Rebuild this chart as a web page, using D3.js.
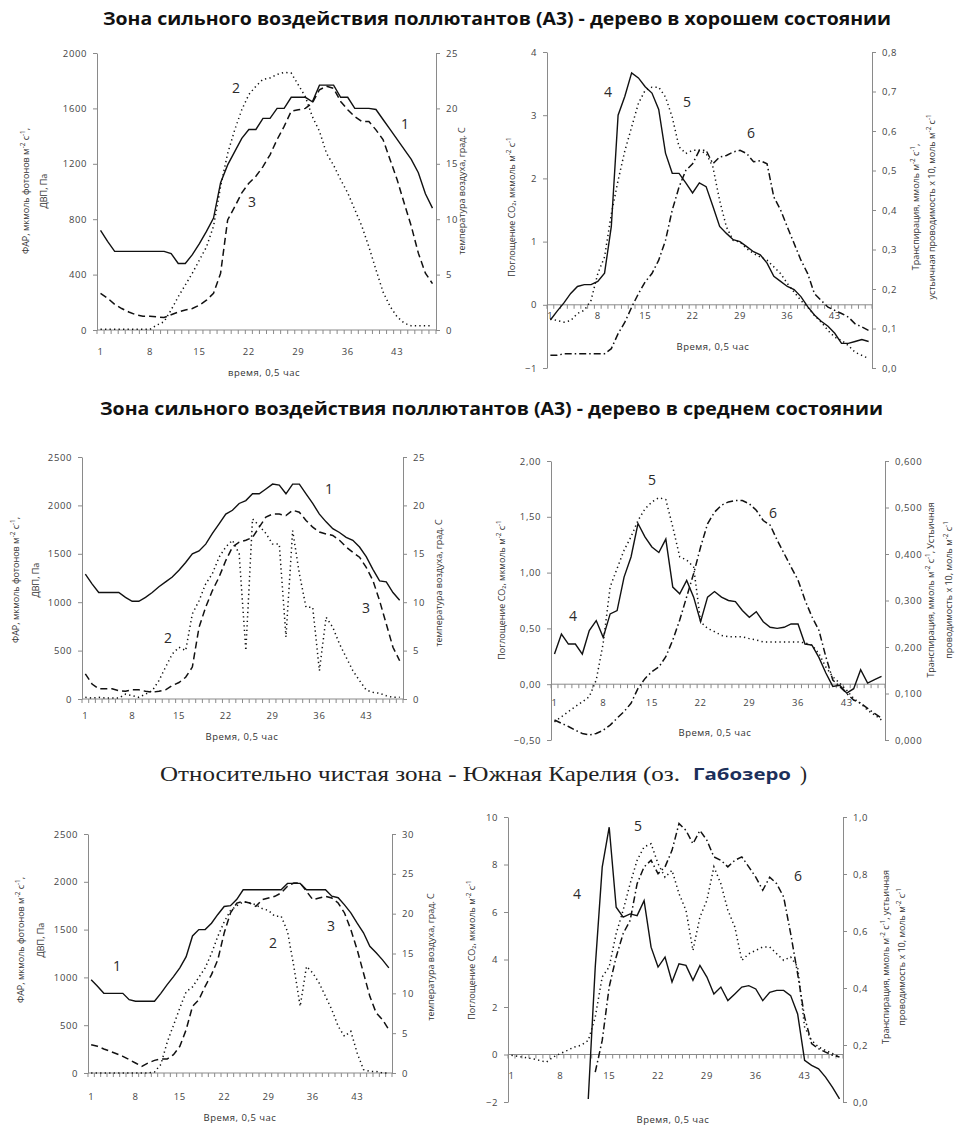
<!DOCTYPE html>
<html>
<head>
<meta charset="utf-8">
<script src="https://cdn.jsdelivr.net/npm/d3@7"></script>
<style>
  body { margin: 0; background: #fff; }
  svg { display: block; font-family: "Open Sans", "Liberation Sans", sans-serif; }
</style>
</head>
<body>
<div id="chart"></div>
<script>
// категории: получасовые интервалы суток
var categories = [1,2,3,4,5,6,7,8,9,10,11,12,13,14,15,16,17,18,19,20,21,22,23,24,
                  25,26,27,28,29,30,31,32,33,34,35,36,37,38,39,40,41,42,43,44,45,46,47,48];
var tickLabels = [1, 8, 15, 22, 29, 36, 43];

// А3, хорошее состояние: 1 - температура, 2 - ФАР, 3 - ДВП
var p1Temp = [9.0,8.0,7.1,7.1,7.1,7.1,7.1,7.1,7.1,7.1,6.9,6.0,6.0,6.8,7.8,8.9,10.1,13.3,14.9,16.1,
              17.3,18.1,18.1,19.1,19.1,20.0,20.0,21.0,21.0,21.0,20.6,22.1,22.1,22.1,21.0,21.0,20.0,20.0,
              20.0,19.9,19.0,18.1,17.2,16.3,15.4,14.2,12.3,11.0];
var p1Par = [5,5,5,5,5,5,5,5,36,60,145,240,325,410,505,600,750,1035,1275,1445,
             1590,1700,1760,1810,1820,1845,1860,1855,1770,1685,1540,1435,1275,1190,1085,990,870,750,
             600,435,275,170,95,50,30,30,30,30];
var p1Vpd = [265,230,185,155,130,110,100,100,95,90,110,130,145,155,180,215,265,410,795,890,
             990,1060,1110,1180,1265,1375,1470,1580,1590,1600,1640,1735,1760,1745,1650,1590,1540,1505,
             1505,1445,1375,1230,1085,915,750,555,410,335];

// А3, хорошее состояние: 4 - поглощение CO2, 5 - транспирация, 6 - устьичная проводимость
var p2Co2 = [-0.24,-0.1,0.03,0.18,0.29,0.32,0.32,0.37,0.5,1.24,3.0,3.3,3.67,3.59,3.45,3.35,3.09,2.4,2.08,2.08,
             1.93,1.77,1.93,1.87,1.56,1.24,1.13,1.03,1.0,0.92,0.84,0.79,0.66,0.45,0.37,0.29,0.24,0.13,
             -0.03,-0.16,-0.26,-0.34,-0.45,-0.61,-0.61,-0.58,-0.55,-0.58];
var p2Transp = [0.125,0.12,0.116,0.12,0.138,0.146,0.171,0.239,0.281,0.39,0.475,0.55,0.61,0.67,0.703,0.711,
                0.711,0.686,0.635,0.56,0.543,0.551,0.551,0.543,0.509,0.424,0.357,0.323,0.319,0.302,0.29,
                0.281,0.273,0.256,0.239,0.214,0.192,0.171,0.154,0.133,0.116,0.095,0.078,0.07,0.057,0.04,
                0.032,0.024];
var p2Cond = [0.032,0.032,0.036,0.036,0.036,0.036,0.036,0.036,0.036,0.049,0.087,0.116,0.154,0.188,0.218,0.239,
              0.273,0.323,0.4,0.458,0.5,0.517,0.551,0.551,0.517,0.534,0.538,0.547,0.551,0.543,0.522,0.525,
              0.517,0.433,0.4,0.357,0.315,0.273,0.239,0.188,0.171,0.154,0.146,0.138,0.129,0.112,0.104,0.095];

// А3, среднее состояние
var p3Temp = [12.9,11.9,11.0,11.0,11.0,11.0,10.5,10.1,10.1,10.5,11.0,11.6,12.1,12.6,13.3,14.1,15.0,15.3,16.0,17.1,
              18.1,19.1,19.5,20.2,20.5,21.2,21.2,21.7,22.2,22.1,21.2,22.2,22.2,21.2,20.2,19.1,18.3,17.6,
              17.2,16.7,16.4,15.7,14.7,13.4,12.2,12.1,11.0,10.2];
var p3Par = [17,10,17,10,10,10,50,35,17,50,85,190,330,465,535,500,880,1015,1190,1295,
             1465,1570,1640,1500,500,1860,1790,1710,1600,1600,640,1740,1295,948,948,293,845,741,
             569,431,293,190,93,69,59,34,17,17];
var p3Vpd = [260,155,105,105,105,85,80,95,95,80,70,80,95,140,170,225,330,740,950,1120,
             1260,1430,1570,1620,1640,1670,1775,1880,1910,1910,1895,1950,1930,1845,1775,1725,1705,1690,
             1640,1570,1515,1465,1360,1225,1015,775,535,395];

var p4Co2 = [0.27,0.45,0.36,0.36,0.27,0.48,0.57,0.42,0.63,0.66,0.96,1.14,1.44,1.32,1.23,1.18,1.3,0.87,0.81,0.93,
             0.78,0.56,0.78,0.83,0.78,0.75,0.74,0.66,0.6,0.65,0.56,0.51,0.5,0.51,0.54,0.54,0.36,0.35,
             0.24,0.1,-0.02,-0.01,-0.08,-0.04,0.13,0.01,0.04,0.07];
var p4Transp = [0.039,0.05,0.061,0.072,0.082,0.093,0.129,0.208,0.329,0.369,0.408,0.437,0.472,0.497,0.512,0.521,
                0.517,0.458,0.394,0.387,0.372,0.254,0.24,0.233,0.225,0.222,0.222,0.222,0.218,0.215,0.211,
                0.211,0.211,0.211,0.211,0.211,0.209,0.204,0.186,0.157,0.136,0.122,0.107,0.089,0.079,0.064,
                0.054,0.043];
var p4Cond = [0.043,0.036,0.029,0.021,0.014,0.011,0.014,0.021,0.032,0.047,0.061,0.079,0.111,0.132,0.147,0.157,
              0.179,0.215,0.258,0.308,0.358,0.415,0.465,0.49,0.505,0.512,0.515,0.515,0.508,0.494,0.472,0.462,
              0.43,0.401,0.372,0.344,0.301,0.265,0.236,0.179,0.129,0.115,0.1,0.086,0.079,0.068,0.057,0.047];

// Южная Карелия (оз. Габозеро)
var p5Temp = [11.7,10.9,10.0,10.0,10.0,10.0,9.2,9.0,9.0,9.0,9.0,10.0,11.1,12.1,13.2,14.6,17.2,18.0,18.0,18.8,
              19.9,20.9,21.0,21.8,23.0,23.0,23.0,23.0,23.0,23.0,23.0,23.8,23.8,23.8,23.0,23.0,23.0,23.0,
              22.2,22.0,21.1,20.1,18.8,17.6,15.9,15.1,14.2,13.2];
var p5Par = [0,0,0,0,0,0,0,0,0,0,10,90,320,500,680,850,900,1000,1100,1250,
             1430,1580,1700,1750,1790,1780,1760,1720,1700,1640,1640,1480,1115,697,1115,1045,941,802,
             662,488,383,436,209,35,17,17,0,0];
var p5Vpd = [296,279,251,227,202,174,140,105,70,105,132,146,146,192,279,453,697,767,907,1029,
             1185,1464,1674,1778,1796,1778,1743,1813,1830,1848,1883,1953,1987,1987,1900,1813,1830,1848,
             1830,1778,1674,1500,1290,1046,802,628,558,453];

var p6Co2 = [null,null,null,null,null,null,null,null,null,null,null,-1.87,3.68,7.89,9.57,6.2,5.78,5.92,5.85,6.48,
             4.52,3.68,4.1,3.05,3.82,3.75,3.12,3.75,3.26,2.55,2.84,2.27,2.55,2.84,2.9,2.76,2.27,2.62,
             2.7,2.7,2.48,1.71,-0.25,-0.46,-0.6,-0.95,-1.38,-1.87];
var p6Transp = [0.164,0.16,0.156,0.152,0.146,0.14,0.158,0.17,0.181,0.193,0.199,0.216,0.298,0.439,0.474,0.591,
                0.673,0.766,0.848,0.895,0.906,0.836,0.789,0.813,0.731,0.673,0.532,0.649,0.708,0.825,0.766,
                0.673,0.614,0.497,0.52,0.532,0.544,0.544,0.52,0.497,0.509,0.474,0.263,0.216,0.193,0.181,
                0.17,0.158];
var p6Cond = [null,null,null,null,null,null,null,null,null,null,null,null,0.105,0.216,0.404,0.509,0.591,0.637,0.766,0.825,
              0.848,0.801,0.825,0.883,0.977,0.953,0.906,0.953,0.918,0.86,0.848,0.825,0.848,0.86,0.825,0.789,
              0.743,0.789,0.766,0.719,0.591,0.45,0.298,0.205,0.187,0.175,0.164,0.158];

var ru = d3.formatLocale({decimal: ",", thousands: "", grouping: [3], currency: ["", ""]});

var DASH = {solid: null, dot: "1.3,3.2", dash: "7,4", dashdot: "7,3,1.5,3"};

var svg = d3.select("#chart").append("svg")
    .attr("width", 960)
    .attr("height", 1128);

// текст с верхними индексами вида м^{-2}
function richText(sel, str) {
  var parts = str.split(/\^\{([^}]*)\}/);
  parts.forEach(function(s, i) {
    if (i % 2 === 1) {
      sel.append("tspan").attr("dy", -4).attr("font-size", "0.7em").text(s);
    } else if (s) {
      sel.append("tspan").attr("dy", i === 0 ? 0 : 4).text(s);
    }
  });
}

function drawPanel(p) {
  var x = d3.scaleBand().domain(categories).range([p.x0, p.x1]);
  var yL = d3.scaleLinear().domain(p.left).range([p.y1, p.y0]);
  var yR = d3.scaleLinear().domain(p.right).range([p.y1, p.y0]);
  var g = svg.append("g");

  var leftAxis = g.append("g")
      .attr("transform", "translate(" + p.x0 + ",0)")
      .call(d3.axisLeft(yL).tickValues(p.leftTicks).tickFormat(p.leftFmt)
            .tickSizeInner(4).tickSizeOuter(0).tickPadding(6));
  var rightAxis = g.append("g")
      .attr("transform", "translate(" + p.x1 + ",0)")
      .call(d3.axisRight(yR).tickValues(p.rightTicks).tickFormat(p.rightFmt)
            .tickSizeInner(4).tickSizeOuter(0).tickPadding(6));
  [leftAxis, rightAxis].forEach(function(a) {
    a.attr("font-family", null);
    a.select(".domain").attr("stroke", "#8a8a8a");
    a.selectAll(".tick line").attr("stroke", "#8a8a8a");
    a.selectAll(".tick text").attr("fill", "#444").attr("font-size", 9.5)
      .attr("letter-spacing", 0.6);
  });

  // ось времени по нулю левой шкалы
  var y0 = yL(0);
  g.append("line")
      .attr("x1", p.x0).attr("x2", p.x1)
      .attr("y1", y0).attr("y2", y0)
      .attr("stroke", "#8a8a8a");
  var bounds = categories.map(function(c) { return x(c); }).concat([p.x1]);
  g.selectAll(".xt").data(bounds).enter().append("line")
      .attr("x1", function(d) { return d; }).attr("x2", function(d) { return d; })
      .attr("y1", y0).attr("y2", y0 + 4)
      .attr("stroke", "#8a8a8a");
  g.selectAll(".xl").data(tickLabels).enter().append("text")
      .attr("x", function(d) { return x(d) + x.bandwidth() / 2; })
      .attr("y", p.xLabelY)
      .attr("text-anchor", "middle")
      .attr("dominant-baseline", "middle")
      .attr("font-size", 9.5)
      .attr("letter-spacing", 0.6)
      .attr("fill", "#444")
      .text(function(d) { return d; });

  g.append("text")
      .attr("x", p.xTitle[0]).attr("y", p.xTitle[1])
      .attr("text-anchor", "middle")
      .attr("dominant-baseline", "middle")
      .attr("font-size", 9.5)
      .attr("letter-spacing", 0.5)
      .attr("fill", "#333")
      .text(p.xTitle[2]);

  p.leftTitles.concat(p.rightTitles).forEach(function(t) {
    var tx = g.append("text")
        .attr("transform", "translate(" + t[0] + "," + t[1] + ") rotate(-90)")
        .attr("text-anchor", "middle")
        .attr("dominant-baseline", "middle")
        .attr("font-size", 9)
        .attr("fill", "#333");
    richText(tx, t[2]);
  });

  p.series.forEach(function(s) {
    var yS = s.axis === "R" ? yR : yL;
    var line = d3.line()
        .defined(function(d) { return d != null; })
        .x(function(d, i) { return x(categories[i]) + x.bandwidth() / 2; })
        .y(function(d) { return yS(d); });
    g.append("path")
        .datum(s.data)
        .attr("fill", "none")
        .attr("stroke", "#111")
        .attr("stroke-width", s.style === "solid" ? 1.4 : 1.5)
        .attr("stroke-dasharray", DASH[s.style])
        .attr("d", line);
  });

  p.labels.forEach(function(l) {
    g.append("text")
        .attr("x", l[0]).attr("y", l[1])
        .attr("text-anchor", "middle")
        .attr("dominant-baseline", "middle")
        .attr("font-size", 14)
        .attr("fill", "#2a2a2a")
        .text(l[2]);
  });
}

var fInt = ru.format("d");
var leftTitleFar = "ФАР, мкмоль фотонов м^{-2} с^{-1},";

var panels = [
  {x0: 97, x1: 436, y0: 53, y1: 330,
   left: [0, 2000], leftTicks: [0, 400, 800, 1200, 1600, 2000], leftFmt: fInt,
   right: [0, 25], rightTicks: [0, 5, 10, 15, 20, 25], rightFmt: fInt,
   xLabelY: 352, xTitle: [264, 373, "время, 0,5 час"],
   leftTitles: [[27, 191, leftTitleFar], [45, 191, "ДВП, Па"]],
   rightTitles: [[463, 191, "температура воздуха, град. С"]],
   series: [{data: p1Temp, axis: "R", style: "solid"},
            {data: p1Par, axis: "L", style: "dot"},
            {data: p1Vpd, axis: "L", style: "dash"}],
   labels: [[405, 125, "1"], [236, 89, "2"], [252, 203, "3"]]},
  {x0: 547, x1: 872, y0: 52, y1: 368,
   left: [-1, 4], leftTicks: [-1, 0, 1, 2, 3, 4], leftFmt: fInt,
   right: [0, 0.8], rightTicks: [0, 0.1, 0.2, 0.3, 0.4, 0.5, 0.6, 0.7, 0.8], rightFmt: ru.format(".1f"),
   xLabelY: 316, xTitle: [713, 347, "Время, 0,5 час"],
   leftTitles: [[513, 207, "Поглощение CO₂, мкмоль м^{-2} с^{-1}"]],
   rightTitles: [[917, 207, "Транспирация, ммоль м^{-2} с^{-1},"],
                 [933, 207, "устьичная проводимость х 10, моль м^{-2} с^{-1}"]],
   series: [{data: p2Co2, axis: "L", style: "solid"},
            {data: p2Transp, axis: "R", style: "dot"},
            {data: p2Cond, axis: "R", style: "dashdot"}],
   labels: [[608, 93, "4"], [687, 103, "5"], [751, 134, "6"]]},
  {x0: 82, x1: 403, y0: 457, y1: 699,
   left: [0, 2500], leftTicks: [0, 500, 1000, 1500, 2000, 2500], leftFmt: fInt,
   right: [0, 25], rightTicks: [0, 5, 10, 15, 20, 25], rightFmt: fInt,
   xLabelY: 716, xTitle: [242, 737, "Время, 0,5 час"],
   leftTitles: [[17, 580, leftTitleFar], [37, 580, "ДВП, Па"]],
   rightTitles: [[440, 583, "температура воздуха, град. С"]],
   series: [{data: p3Temp, axis: "R", style: "solid"},
            {data: p3Par, axis: "L", style: "dot"},
            {data: p3Vpd, axis: "L", style: "dash"}],
   labels: [[329, 490, "1"], [168, 639, "2"], [366, 609, "3"]]},
  {x0: 551, x1: 885, y0: 461, y1: 740,
   left: [-0.5, 2], leftTicks: [-0.5, 0, 0.5, 1, 1.5, 2], leftFmt: ru.format(".2f"),
   right: [0, 0.6], rightTicks: [0, 0.1, 0.2, 0.3, 0.4, 0.5, 0.6], rightFmt: ru.format(".3f"),
   xLabelY: 703, xTitle: [715, 733, "Время, 0,5 час"],
   leftTitles: [[503, 590, "Поглощение CO₂, мкмоль м^{-2} с^{-1}"]],
   rightTitles: [[932, 590, "Транспирация, ммоль м^{-2} с^{-1}, Устьичная"],
                 [950, 590, "проводимость х 10, моль м^{-2} с^{-1}"]],
   series: [{data: p4Co2, axis: "L", style: "solid"},
            {data: p4Transp, axis: "R", style: "dot"},
            {data: p4Cond, axis: "R", style: "dashdot"}],
   labels: [[573, 617, "4"], [652, 481, "5"], [773, 514, "6"]]},
  {x0: 88, x1: 392, y0: 834, y1: 1073,
   left: [0, 2500], leftTicks: [0, 500, 1000, 1500, 2000, 2500], leftFmt: fInt,
   right: [0, 30], rightTicks: [0, 5, 10, 15, 20, 25, 30], rightFmt: fInt,
   xLabelY: 1097, xTitle: [240, 1118, "Время, 0,5 час"],
   leftTitles: [[22, 940, leftTitleFar], [42, 940, "ДВП, Па"]],
   rightTitles: [[432, 957, "температура воздуха, град. С"]],
   series: [{data: p5Temp, axis: "R", style: "solid"},
            {data: p5Par, axis: "L", style: "dot"},
            {data: p5Vpd, axis: "L", style: "dash"}],
   labels: [[117, 967, "1"], [273, 944, "2"], [331, 927, "3"]]},
  {x0: 508, x1: 843, y0: 817, y1: 1102,
   left: [-2, 10], leftTicks: [-2, 0, 2, 4, 6, 8, 10], leftFmt: fInt,
   right: [0, 1], rightTicks: [0, 0.2, 0.4, 0.6, 0.8, 1], rightFmt: ru.format(".1f"),
   xLabelY: 1076, xTitle: [673, 1120, "Время, 0,5 час"],
   leftTitles: [[473, 950, "Поглощение CO₂, мкмоль м^{-2} с^{-1}"]],
   rightTitles: [[887, 957, "Транспирация, ммоль м^{-2} с^{-1}, устьичная"],
                 [903, 957, "проводимость х 10, моль м^{-2} с^{-1}"]],
   series: [{data: p6Co2, axis: "L", style: "solid"},
            {data: p6Transp, axis: "R", style: "dot"},
            {data: p6Cond, axis: "R", style: "dashdot"}],
   labels: [[577, 895, "4"], [638, 827, "5"], [798, 877, "6"]]}
];

panels.forEach(drawPanel);

// заголовки блоков
svg.append("text")
    .attr("x", 103).attr("y", 20)
    .attr("dominant-baseline", "middle")
    .attr("font-size", 17).attr("font-weight", "bold").attr("fill", "#111")
    .attr("textLength", 788).attr("lengthAdjust", "spacingAndGlyphs")
    .text("Зона сильного воздействия поллютантов (А3) - дерево в хорошем состоянии");
svg.append("text")
    .attr("x", 100).attr("y", 410)
    .attr("dominant-baseline", "middle")
    .attr("font-size", 17).attr("font-weight", "bold").attr("fill", "#111")
    .attr("textLength", 783).attr("lengthAdjust", "spacingAndGlyphs")
    .text("Зона сильного воздействия поллютантов (А3) - дерево в среднем состоянии");
svg.append("text")
    .attr("x", 160).attr("y", 776)
    .attr("dominant-baseline", "middle")
    .style("font-family", "'Liberation Serif', 'DejaVu Serif', serif")
    .attr("font-size", 21).attr("fill", "#222")
    .attr("textLength", 520).attr("lengthAdjust", "spacingAndGlyphs")
    .text("Относительно чистая зона - Южная Карелия (оз.");
svg.append("text")
    .attr("x", 693).attr("y", 776)
    .attr("dominant-baseline", "middle")
    .attr("font-size", 16).attr("font-weight", "bold").attr("fill", "#1c2f5a")
    .attr("textLength", 98).attr("lengthAdjust", "spacingAndGlyphs")
    .text("Габозеро");
svg.append("text")
    .attr("x", 800).attr("y", 776)
    .attr("dominant-baseline", "middle")
    .style("font-family", "'Liberation Serif', 'DejaVu Serif', serif")
    .attr("font-size", 21).attr("fill", "#222")
    .text(")");
</script>
</body>
</html>
